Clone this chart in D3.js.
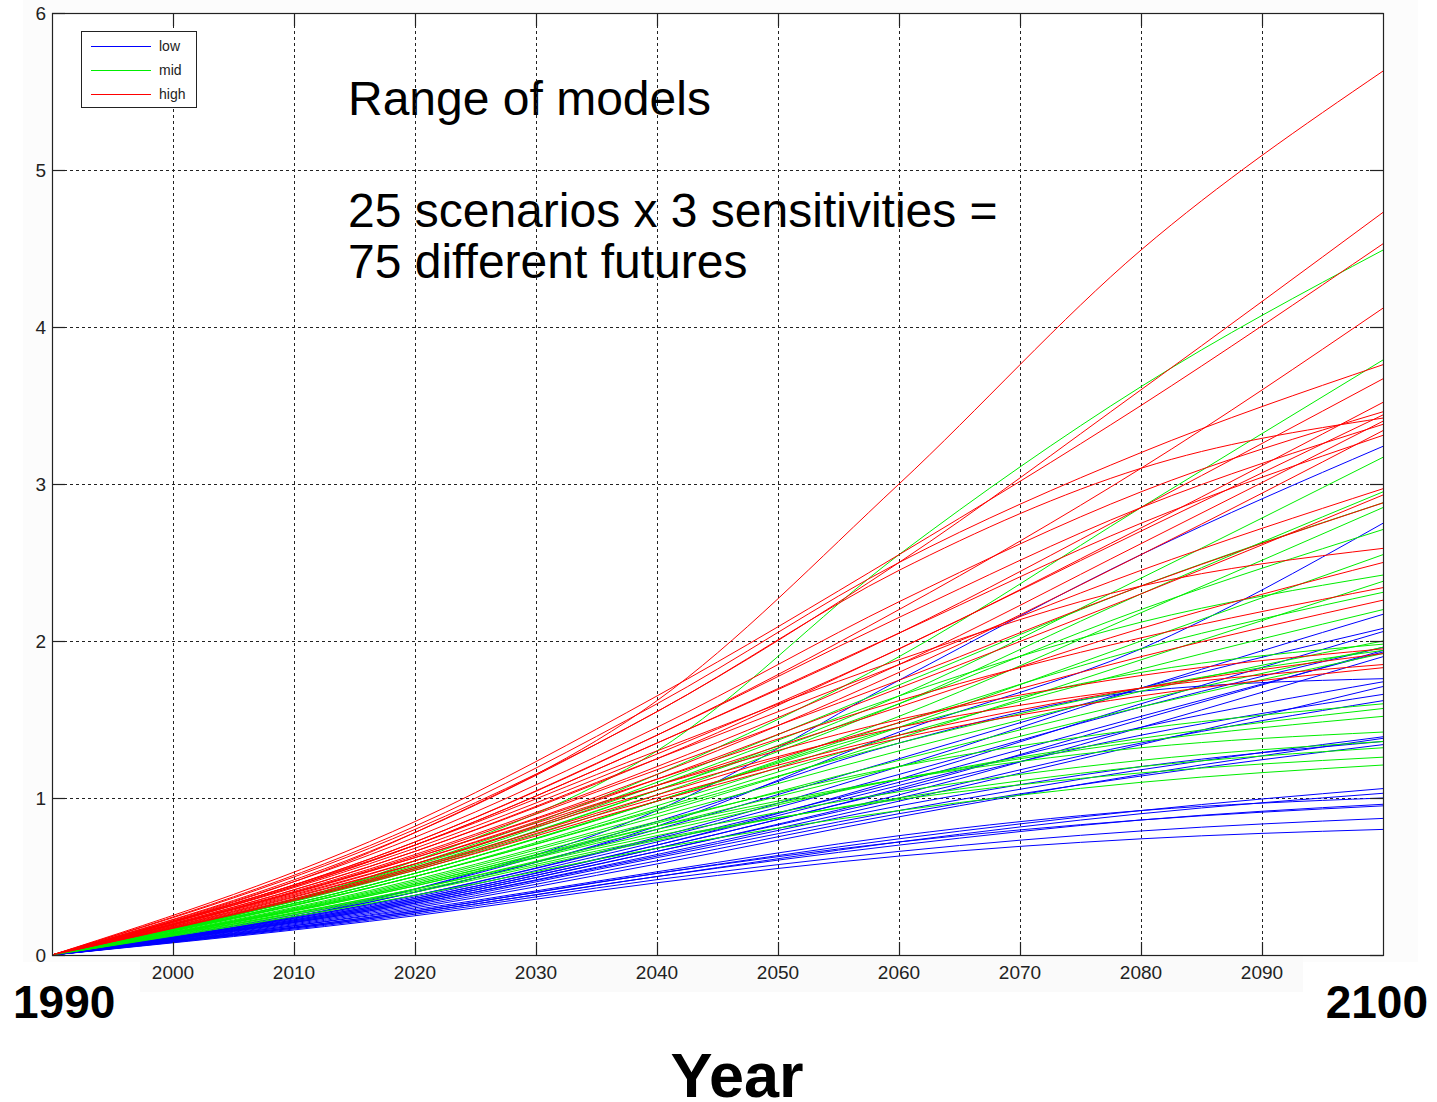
<!DOCTYPE html>
<html>
<head>
<meta charset="UTF-8">
<title>Range of models</title>
<script src="https://cdn.jsdelivr.net/npm/d3@7"></script>
<style>
  body { margin: 0; background: #fff; }
  text { font-family: "Liberation Sans", Arial, sans-serif; }
</style>
</head>
<body>
<div id="chart"></div>
<script>
// sample years shared by every series (value at 1990 is 0)
var years = [1990, 2020, 2040, 2060, 2080, 2100];
var xTicks = [2000, 2010, 2020, 2030, 2040, 2050, 2060, 2070, 2080, 2090];
var yTicks = [0, 1, 2, 3, 4, 5, 6];

// low sensitivity (blue), 25 scenarios
var lowRuns = [
  [0, 0.42, 0.92, 1.75, 2.55, 3.24],
  [0, 0.40, 0.82, 1.42, 1.95, 2.75],
  [0, 0.38, 0.75, 1.20, 1.70, 2.17],
  [0, 0.40, 0.80, 1.25, 1.70, 2.08],
  [0, 0.36, 0.70, 1.12, 1.60, 2.06],
  [0, 0.38, 0.74, 1.15, 1.58, 1.96],
  [0, 0.35, 0.68, 1.06, 1.50, 1.94],
  [0, 0.37, 0.72, 1.10, 1.52, 1.93],
  [0, 0.34, 0.66, 1.02, 1.45, 1.90],
  [0, 0.42, 0.85, 1.35, 1.68, 1.76],
  [0, 0.36, 0.70, 1.08, 1.45, 1.74],
  [0, 0.33, 0.64, 0.98, 1.34, 1.71],
  [0, 0.35, 0.68, 1.05, 1.40, 1.66],
  [0, 0.34, 0.66, 1.00, 1.35, 1.62],
  [0, 0.32, 0.62, 0.92, 1.18, 1.39],
  [0, 0.30, 0.58, 0.88, 1.15, 1.38],
  [0, 0.33, 0.63, 0.95, 1.20, 1.36],
  [0, 0.31, 0.60, 0.90, 1.14, 1.34],
  [0, 0.28, 0.52, 0.74, 0.92, 1.06],
  [0, 0.27, 0.50, 0.72, 0.90, 1.03],
  [0, 0.29, 0.53, 0.76, 0.92, 1.00],
  [0, 0.27, 0.50, 0.70, 0.86, 0.96],
  [0, 0.28, 0.52, 0.72, 0.86, 0.95],
  [0, 0.26, 0.48, 0.66, 0.79, 0.87],
  [0, 0.25, 0.46, 0.63, 0.74, 0.80]
];

// mid sensitivity (green)
var midRuns = [
  [0, 0.60, 1.30, 2.55, 3.62, 4.49],
  [0, 0.58, 1.15, 1.90, 2.85, 3.79],
  [0, 0.55, 1.05, 1.65, 2.40, 3.17],
  [0, 0.54, 1.02, 1.60, 2.30, 2.95],
  [0, 0.57, 1.10, 1.72, 2.35, 2.88],
  [0, 0.52, 0.98, 1.52, 2.18, 2.85],
  [0, 0.55, 1.05, 1.60, 2.20, 2.71],
  [0, 0.50, 0.95, 1.45, 2.00, 2.55],
  [0, 0.56, 1.08, 1.65, 2.12, 2.42],
  [0, 0.48, 0.90, 1.38, 1.88, 2.38],
  [0, 0.52, 0.98, 1.48, 1.95, 2.31],
  [0, 0.50, 0.93, 1.40, 1.82, 2.20],
  [0, 0.47, 0.88, 1.30, 1.68, 2.00],
  [0, 0.52, 0.98, 1.45, 1.80, 1.98],
  [0, 0.45, 0.84, 1.24, 1.62, 1.96],
  [0, 0.50, 0.92, 1.35, 1.70, 1.94],
  [0, 0.44, 0.82, 1.20, 1.58, 1.92],
  [0, 0.46, 0.85, 1.20, 1.44, 1.60],
  [0, 0.42, 0.78, 1.12, 1.38, 1.57],
  [0, 0.44, 0.80, 1.12, 1.36, 1.52],
  [0, 0.45, 0.82, 1.12, 1.32, 1.42],
  [0, 0.42, 0.76, 1.04, 1.24, 1.36],
  [0, 0.40, 0.73, 1.00, 1.20, 1.32],
  [0, 0.41, 0.74, 0.99, 1.16, 1.26],
  [0, 0.38, 0.68, 0.92, 1.10, 1.21]
];

// high sensitivity (red)
var highRuns = [
  [0, 0.78, 1.62, 3.00, 4.49, 5.63],
  [0, 0.80, 1.55, 2.50, 3.60, 4.73],
  [0, 0.85, 1.65, 2.55, 3.50, 4.53],
  [0, 0.72, 1.40, 2.20, 3.10, 4.12],
  [0, 0.82, 1.60, 2.50, 3.20, 3.76],
  [0, 0.70, 1.35, 2.05, 2.85, 3.67],
  [0, 0.68, 1.28, 1.95, 2.72, 3.52],
  [0, 0.75, 1.45, 2.25, 2.95, 3.46],
  [0, 0.66, 1.25, 1.95, 2.70, 3.44],
  [0, 0.78, 1.55, 2.45, 3.10, 3.42],
  [0, 0.64, 1.20, 1.85, 2.62, 3.40],
  [0, 0.72, 1.40, 2.15, 2.85, 3.38],
  [0, 0.62, 1.15, 1.80, 2.55, 3.34],
  [0, 0.70, 1.35, 2.05, 2.75, 3.31],
  [0, 0.66, 1.25, 1.85, 2.45, 2.97],
  [0, 0.60, 1.12, 1.70, 2.30, 2.93],
  [0, 0.63, 1.18, 1.75, 2.35, 2.88],
  [0, 0.70, 1.30, 1.88, 2.35, 2.59],
  [0, 0.58, 1.08, 1.58, 2.08, 2.50],
  [0, 0.62, 1.12, 1.62, 2.02, 2.34],
  [0, 0.56, 1.02, 1.48, 1.90, 2.26],
  [0, 0.60, 1.08, 1.50, 1.78, 1.95],
  [0, 0.55, 1.00, 1.40, 1.70, 1.92],
  [0, 0.58, 1.05, 1.45, 1.70, 1.85],
  [0, 0.54, 0.98, 1.38, 1.65, 1.83]
];

var legendNames = ["low", "mid", "high"];
var colors = ["#0000ff", "#00ee00", "#ff0000"];

var W = 1437, H = 1102;
var plotL = 52, plotR = 1383, plotT = 13, plotB = 955;
var tickLen = 13;

var x = d3.scaleLinear().domain([1990, 2100]).range([plotL, plotR]);
var y = d3.scaleLinear().domain([0, 6]).range([plotB, plotT]);

var svg = d3.select("#chart").append("svg")
    .attr("width", W)
    .attr("height", H);

// faint panel behind tick labels (as in the screenshot)
svg.append("rect").attr("x", 23).attr("y", 0).attr("width", 1395).attr("height", 962)
    .attr("fill", "#fcfcfc");
svg.append("rect").attr("x", 140).attr("y", 955).attr("width", 1163).attr("height", 37)
    .attr("fill", "#fafafa");
svg.append("rect").attr("x", plotL).attr("y", plotT).attr("width", plotR - plotL).attr("height", plotB - plotT)
    .attr("fill", "#fff");

// annotation text (drawn under the grid)
var note = svg.append("g").attr("fill", "#000").style("font-size", "48px");
note.append("text").attr("x", 348).attr("y", 115).text("Range of models");
note.append("text").attr("x", 348).attr("y", 227).text("25 scenarios x 3 sensitivities =");
note.append("text").attr("x", 348).attr("y", 278).text("75 different futures");

// dashed grid
var grid = svg.append("g").attr("stroke", "#222").attr("stroke-width", 1)
    .attr("stroke-dasharray", "3,3");
grid.selectAll("line.gx").data(xTicks).enter().append("line")
    .attr("class", "gx")
    .attr("x1", function (d) { return Math.round(x(d)) + 0.5; })
    .attr("x2", function (d) { return Math.round(x(d)) + 0.5; })
    .attr("y1", plotT).attr("y2", plotB);
grid.selectAll("line.gy").data(yTicks.slice(1, -1)).enter().append("line")
    .attr("class", "gy")
    .attr("y1", function (d) { return Math.round(y(d)) + 0.5; })
    .attr("y2", function (d) { return Math.round(y(d)) + 0.5; })
    .attr("x1", plotL).attr("x2", plotR);

// runs: interleaved low / mid / high for each scenario
var runs = [];
for (var i = 0; i < 25; i++) {
    runs.push({c: 0, v: lowRuns[i]});
    runs.push({c: 1, v: midRuns[i]});
    runs.push({c: 2, v: highRuns[i]});
}

var line = d3.line()
    .x(function (d, i) { return x(years[i]); })
    .y(function (d) { return y(d); })
    .curve(d3.curveMonotoneX);

svg.append("g").selectAll("path").data(runs).enter().append("path")
    .attr("d", function (d) { return line(d.v); })
    .attr("fill", "none")
    .attr("stroke", function (d) { return colors[d.c]; })
    .attr("stroke-width", 1);

// axes box and inward ticks
var ax = svg.append("g").attr("stroke", "#222").attr("stroke-width", 1.2);
ax.append("rect").attr("x", plotL + 0.5).attr("y", plotT + 0.5)
    .attr("width", plotR - plotL).attr("height", plotB - plotT).attr("fill", "none");
xTicks.forEach(function (t) {
    var px = Math.round(x(t)) + 0.5;
    ax.append("line").attr("x1", px).attr("x2", px).attr("y1", plotB).attr("y2", plotB - tickLen);
    ax.append("line").attr("x1", px).attr("x2", px).attr("y1", plotT).attr("y2", plotT + tickLen);
});
yTicks.forEach(function (t) {
    var py = Math.round(y(t)) + 0.5;
    ax.append("line").attr("y1", py).attr("y2", py).attr("x1", plotL).attr("x2", plotL + tickLen);
    ax.append("line").attr("y1", py).attr("y2", py).attr("x1", plotR).attr("x2", plotR - tickLen);
});

// tick labels
var tl = svg.append("g").attr("fill", "#222").style("font-size", "19px");
tl.selectAll("text.xl").data(xTicks).enter().append("text")
    .attr("class", "xl")
    .attr("x", function (d) { return x(d); })
    .attr("y", 979)
    .attr("text-anchor", "middle")
    .text(function (d) { return d; });
tl.selectAll("text.yl").data(yTicks).enter().append("text")
    .attr("class", "yl")
    .attr("x", 46)
    .attr("y", function (d) { return y(d) + 7; })
    .attr("text-anchor", "end")
    .text(function (d) { return d; });

// clipped remnant of the original axis label
svg.append("clipPath").attr("id", "cut").append("rect")
    .attr("x", 680).attr("y", 980).attr("width", 60).attr("height", 13);
svg.append("text").attr("clip-path", "url(#cut)")
    .attr("x", 702).attr("y", 1006).attr("text-anchor", "middle")
    .attr("fill", "#222").style("font-size", "19px").text("Y");

// legend
var lg = svg.append("g");
lg.append("rect").attr("x", 81.5).attr("y", 31.5).attr("width", 115).attr("height", 76)
    .attr("fill", "#fff").attr("stroke", "#222").attr("stroke-width", 1);
legendNames.forEach(function (n, i) {
    var ly = 46 + i * 24;
    lg.append("line").attr("x1", 91).attr("x2", 151).attr("y1", ly + 0.5).attr("y2", ly + 0.5)
        .attr("stroke", colors[i]).attr("stroke-width", 1);
    lg.append("text").attr("x", 159).attr("y", ly + 5).attr("fill", "#222")
        .style("font-size", "14px").text(n);
});

// big labels
var big = svg.append("g").attr("fill", "#000").style("font-weight", "bold");
big.append("text").attr("x", 13).attr("y", 1018).style("font-size", "46px").text("1990");
big.append("text").attr("x", 1428).attr("y", 1018).attr("text-anchor", "end")
    .style("font-size", "46px").text("2100");
big.append("text").attr("x", 737).attr("y", 1097).attr("text-anchor", "middle")
    .style("font-size", "63px").text("Year");
</script>
</body>
</html>
